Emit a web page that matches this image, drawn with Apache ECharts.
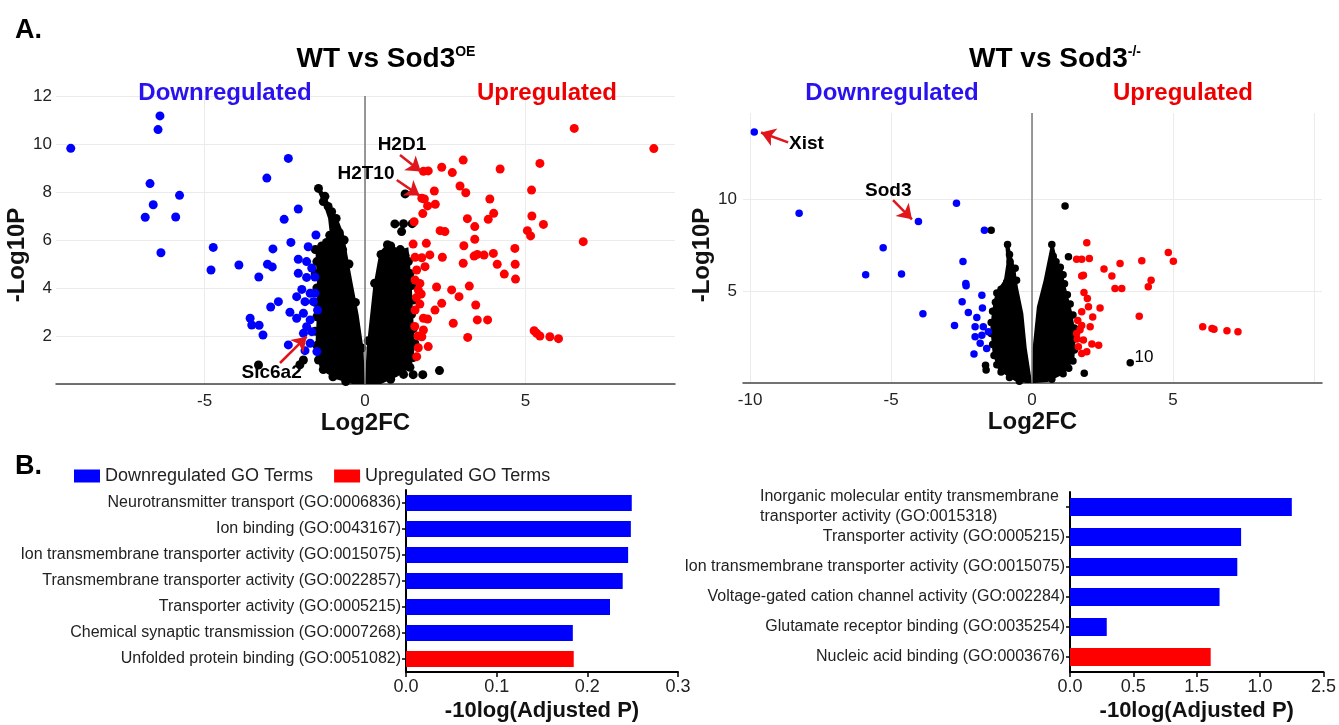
<!DOCTYPE html>
<html>
<head>
<meta charset="utf-8">
<title>Volcano plots and GO terms</title>
<script src="https://cdn.jsdelivr.net/npm/echarts@6/dist/echarts.min.js"></script>
<style>
	html, body {margin: 0; padding: 0; background: #fff;}
	#main {width: 1339px; height: 725px;}
</style>
</head>
<body>
<div id="main"></div>
<script>
// ---------- A. WT vs Sod3 OE (log2FC, -log10P) ----------
var oeDown = [[-9.17,9.82],[-6.39,11.17],[-6.45,10.6],[-6.70,8.35],[-6.60,7.47],[-6.85,6.95],[-5.78,7.86],[-5.90,6.96],[-6.36,5.47],
	[-4.73,5.69],[-4.80,4.75],[-3.93,4.96],[-3.31,4.46],[-3.04,4.99],[-2.89,4.88],[-2.87,5.63],[-3.06,8.58],[-2.39,9.40],[-2.08,7.29],
	[-2.52,6.86],[-2.31,5.90],[-1.53,6.21],[-2.70,3.43],[-2.94,3.21],[-3.58,2.74],[-3.53,2.46],[-3.30,2.45],[-3.18,2.04],[-2.34,2.99],
	[-2.08,5.20],[-2.08,4.61],[-1.82,5.10],[-1.77,5.72],[-1.66,4.83],[-1.82,4.44],[-1.56,4.46],[-1.97,3.94],[-2.13,3.64],[-1.71,3.78],
	[-1.87,3.43],[-1.61,3.43],[-2.13,2.74],[-1.92,2.95],[-1.71,2.67],[-1.82,2.39],[-1.66,2.18],[-1.92,2.11],[-1.71,1.70],[-2.39,1.63],
	[-1.87,1.39],[-1.50,1.35],[-1.56,3.78],[-1.48,3.08]];
var oeUp = [[6.52,10.65],[9.00,9.81],[3.06,9.33],[2.39,9.03],[2.72,8.81],[1.82,8.86],[1.97,8.88],[4.21,8.96],[5.45,9.19],[2.16,8.04],
	[2.96,8.25],[3.14,7.97],[5.19,8.08],[1.77,7.74],[1.85,7.71],[1.95,7.42],[2.19,7.49],[1.80,7.10],[1.53,6.76],[3.89,7.71],[4.01,7.11],
	[3.84,6.86],[3.19,6.89],[3.42,6.56],[5.20,7.00],[5.56,6.65],[5.06,6.39],[5.16,6.17],[6.80,5.93],[2.34,6.39],[2.49,6.35],[3.42,6.03],
	[3.08,5.76],[1.50,5.83],[1.91,5.86],[2.02,5.38],[2.41,5.28],[3.40,5.33],[3.50,5.40],[3.71,5.37],[4.00,5.44],[4.67,5.65],[3.06,5.03],
	[4.12,4.99],[4.68,4.99],[4.34,4.58],[4.69,4.37],[1.56,5.28],[1.77,5.26],[1.87,4.89],[1.61,4.75],[1.56,4.33],[1.71,4.19],[1.66,3.92],
	[2.23,4.04],[2.70,3.92],[2.93,3.64],[3.25,4.08],[3.45,3.29],[2.39,3.36],[2.18,3.08],[1.71,3.33],[1.56,3.08],[1.82,2.74],[1.95,2.71],
	[2.75,2.53],[3.50,2.67],[3.82,2.67],[1.82,2.25],[1.77,1.97],[3.20,1.94],[5.27,2.22],[5.35,2.11],[5.45,2.00],[5.76,1.97],[6.03,1.89],
	[1.66,1.51],[1.97,1.56],[1.61,1.14],[1.60,3.60],[1.75,3.75],[1.55,2.40],[1.65,2.00]];
var oeNs = [[-1.45,8.15],[-1.25,7.82],[-1.30,7.60],[-1.15,7.40],[-1.04,7.18],[-0.90,6.90],[-0.95,6.60],[-0.80,6.30],[-1.10,6.20],
	[-0.65,6.00],[-1.20,5.90],[-0.70,5.60],[-1.35,5.75],[-1.55,5.60],[-1.50,5.10],[-1.55,4.60],[-1.50,4.00],[-1.55,3.40],[-1.50,2.80],
	[-1.55,2.20],[-1.50,1.60],[-1.45,1.00],[-1.30,0.60],[-1.00,0.30],[-0.60,0.10],[-0.10,1.50],[-0.30,3.40],[-0.50,5.00],
	[-3.32,0.79],[-1.92,1.00],[-2.03,0.80],
	[0.70,5.80],[0.80,5.75],[0.95,5.50],[1.10,5.60],[1.25,5.35],[1.35,5.10],[1.40,4.60],[1.45,4.10],[1.50,3.50],[1.45,2.90],[1.50,2.30],
	[1.55,1.70],[1.50,1.10],[1.40,0.70],[1.20,0.40],[0.80,0.20],[0.10,1.80],[0.30,4.20],[0.50,5.40],
	[1.25,7.92],[0.93,6.67],[1.14,6.35],[1.47,6.68],[1.20,6.68],[2.32,0.56],[1.80,0.39],[1.50,0.39]];
// outline of the dense black core (too many genes to list one by one)
var oeCoreLeft = [[0,0],[-0.05,1.5],[-0.2,2.9],[-0.4,4.3],[-0.55,5.4],[-0.65,6.2],[-0.85,6.9],[-1.1,7.5],[-1.35,8.1],[-1.5,8.1],
	[-1.3,7.5],[-1.15,6.9],[-1.1,6.3],[-1.3,5.9],[-1.55,5.7],[-1.5,4.3],[-1.5,2.9],[-1.55,1.5],[-1.4,0.6],[-0.9,0.2],[-0.4,0]];
var oeCoreRight = [[0,0],[0.05,1.5],[0.25,4.0],[0.45,5.5],[0.7,5.85],[0.85,5.75],[1.1,5.6],[1.35,5.7],[1.45,4.3],[1.5,2.9],
	[1.55,1.5],[1.45,0.7],[1.0,0.3],[0.5,0]];
var oeGenes = [['H2D1',1.15,9.96],['H2T10',0.03,8.75],['Slc6a2',-2.91,0.46]];
var oeArrows = [[[1.09,9.54],[1.74,8.85]],[[0.99,8.5],[1.70,7.85]],[[-2.65,0.875],[-1.82,1.97]]];
var oeXTicks = [-5, 0, 5];

// ---------- A. WT vs Sod3-/- ----------
var koDown = [[-9.85,13.66],[-8.26,9.24],[-4.03,8.79],[-2.68,9.78],[-5.28,7.37],[-5.90,5.89],[-4.63,5.94],[-3.87,3.77],[-2.45,6.61],
	[-2.35,5.42],[-2.34,5.30],[-2.48,4.42],[-2.26,3.84],[-2.75,3.13],[-1.69,8.32],[-1.78,4.78],[-1.76,4.09],[-1.96,3.57],[-2.02,3.06],
	[-1.73,3.06],[-2.02,2.52],[-1.78,2.60],[-1.55,2.79],[-2.06,1.58],[-1.61,1.88],[-1.84,2.16]];
var koUp = [[1.94,7.63],[1.58,6.74],[1.76,6.74],[2.03,6.78],[1.82,5.87],[1.76,5.82],[1.84,4.93],[1.96,4.60],[2.00,4.15],[1.76,3.88],
	[2.15,3.60],[2.41,4.09],[2.06,3.06],[1.76,3.13],[1.58,2.70],[1.82,2.34],[1.64,1.97],[2.12,2.12],[2.36,2.06],[1.94,1.70],[1.76,1.60],
	[2.55,6.20],[2.83,5.82],[3.12,6.50],[2.94,5.14],[3.18,5.14],[3.89,6.65],[4.22,5.60],[4.12,5.24],[4.83,7.10],[5.01,6.63],[3.80,3.64],
	[6.05,3.06],[6.38,2.97],[6.45,2.92],[6.91,2.84],[7.30,2.79],[1.60,2.40],[1.70,2.90],[1.62,3.40]];
var koNs = [[-0.87,7.54],[-0.80,7.00],[-0.78,6.60],[-0.60,6.25],[-0.70,5.90],[-0.55,5.60],[-0.90,5.50],[-1.10,5.10],[-1.25,4.90],
	[-1.30,4.40],[-1.40,3.90],[-1.45,3.30],[-1.45,2.70],[-1.40,2.10],[-1.35,1.50],[-1.25,1.00],[-1.10,0.60],[-0.80,0.30],[-0.45,0.10],
	[-1.45,8.32],[-1.63,0.71],[-1.65,0.97],
	[0.70,7.54],[0.75,6.90],[0.85,6.60],[1.00,6.30],[1.10,5.90],[1.15,5.40],[1.25,4.80],[1.35,4.30],[1.45,3.70],[1.50,3.00],[1.50,2.40],
	[1.50,1.80],[1.45,1.20],[1.30,0.80],[1.10,0.50],[0.70,0.20],[1.17,9.64],[1.29,6.87],[3.48,1.10],[1.85,0.53]];
var koCoreLeft = [[0,0],[-0.19,1.9],[-0.31,3.78],[-0.5,5.2],[-0.6,6.2],[-0.8,7.4],[-0.95,7.5],[-0.9,6.6],[-1.0,5.6],[-1.3,4.9],
	[-1.42,3.9],[-1.48,3.0],[-1.4,1.6],[-1.2,0.7],[-0.6,0.1],[-0.2,0]];
var koCoreRight = [[0,0],[0.02,1.9],[0.17,4.15],[0.41,5.6],[0.65,7.4],[0.78,7.4],[0.9,6.6],[1.08,6.2],[1.15,5.5],[1.42,3.85],
	[1.55,2.6],[1.5,1.3],[1.15,0.5],[0.55,0.05],[0.1,0]];
var koGenes = [['Xist',-8.0,13.0],['Sod3',-5.1,10.45],['10',3.97,1.41]];
var koArrows = [[[-8.65,13.1],[-9.61,13.64]],[[-4.93,9.95],[-4.26,8.91]]];
var koXTicks = [-10, -5, 0, 5];
var koYTicks = [5, 10];

// ---------- B. GO terms ----------
var goTermsOE = ['Neurotransmitter transport (GO:0006836)','Ion binding (GO:0043167)','Ion transmembrane transporter activity (GO:0015075)',
	'Transmembrane transporter activity (GO:0022857)','Transporter activity (GO:0005215)','Chemical synaptic transmission (GO:0007268)',
	'Unfolded protein binding (GO:0051082)'];
var goDownOE = [0.249, 0.248, 0.245, 0.239, 0.225, 0.184, '-'];
var goUpOE = ['-', '-', '-', '-', '-', '-', 0.185];
var goTermsKO = ['Inorganic molecular entity transmembrane\ntransporter activity (GO:0015318)','Transporter activity (GO:0005215)',
	'Ion transmembrane transporter activity (GO:0015075)','Voltage-gated cation channel activity (GO:002284)',
	'Glutamate receptor binding (GO:0035254)','Nucleic acid binding (GO:0003676)'];
var goDownKO = [1.75, 1.35, 1.32, 1.18, 0.29, '-'];
var goUpKO = ['-', '-', '-', '-', '-', 1.11];
var goTickLabelsKO = ['0.0', '0.5', '1.5', '1.0', '2.5'];

var FONT = 'Liberation Sans, Arial, sans-serif';
var BLUE = '#0000ff', RED = '#ff0000';

function corePolygon(outline){
	return function(params, api){
		var pts = outline.map(function(p){ return api.coord(p); });
		return {type: 'polygon', shape: {points: pts}, style: {fill: '#000'}};
	};
}

function coreSeries(idx, outline){
	return {type: 'custom', xAxisIndex: idx, yAxisIndex: idx, silent: true, z: 1,
		renderItem: corePolygon(outline), data: [[0, 0]]};
}

function dots(idx, data, color, size, z){
	return {type: 'scatter', xAxisIndex: idx, yAxisIndex: idx, data: data, symbolSize: size,
		itemStyle: {color: color, opacity: 1}, silent: true, z: z};
}

function geneLabels(idx, genes, arrows){
	return {
		type: 'scatter', xAxisIndex: idx, yAxisIndex: idx, symbolSize: 0, silent: true, z: 10,
		itemStyle: {opacity: 1, color: '#000'},
		data: genes.map(function(g){
			return {name: g[0], value: [g[1], g[2]], label: g[0] === '10' ? {fontWeight: 'normal', fontSize: 17} : {}};
		}),
		label: {show: true, position: 'inside', formatter: '{b}', color: '#000', opacity: 1, fontSize: 19,
			fontWeight: 'bold', fontFamily: FONT, textBorderWidth: 0},
		markLine: {
			silent: true, symbol: ['none', 'arrow'], symbolSize: 14, animation: false,
			lineStyle: {color: '#e0161c', width: 2.5, type: 'solid', opacity: 1},
			itemStyle: {color: '#e0161c'}, label: {show: false},
			data: arrows.map(function(a){ return [{coord: a[0]}, {coord: a[1]}]; })
		}
	};
}

function zeroLine(idx, top){
	return {
		type: 'scatter', xAxisIndex: idx, yAxisIndex: idx, data: [], z: 0,
		markLine: {silent: true, symbol: 'none', animation: false, label: {show: false},
			lineStyle: {color: '#777', width: 1.5, type: 'solid'},
			data: [[{coord: [0, 0]}, {coord: [0, top]}]]}
	};
}

function volcanoX(idx, min, max, labels, ticks){
	return {
		type: 'value', gridIndex: idx, min: min, max: max,
		axisLine: {show: true, onZero: false, lineStyle: {color: '#444', width: 1.5}},
		axisTick: {show: false, customValues: ticks},
		axisLabel: {customValues: labels, fontSize: 17, color: '#222', margin: 9, fontFamily: FONT},
		splitLine: {show: true, lineStyle: {color: '#ebebeb', width: 1}},
		name: 'Log2FC', nameLocation: 'middle', nameGap: 27,
		nameTextStyle: {fontSize: 24, fontWeight: 'bold', color: '#111', fontFamily: FONT}
	};
}

function barY(idx, terms){
	return {
		type: 'category', gridIndex: idx, data: terms, inverse: true,
		axisLine: {show: true, lineStyle: {color: '#000', width: 2}},
		axisTick: {show: true, length: 4, alignWithLabel: true, lineStyle: {color: '#000', width: 1.5}},
		axisLabel: {interval: 0, fontSize: 16, color: '#222', margin: 5, fontFamily: FONT,
			formatter: function(v){
				if (v.indexOf('\n') < 0) return v;
				return v.split('\n').map(function(s){ return '{w|' + s + '}'; }).join('\n');
			},
			rich: {w: {width: 305, align: 'left', fontSize: 16, lineHeight: 20, color: '#222', fontFamily: FONT}}
		}
	};
}

function barX(idx, max, interval, formatter){
	return {
		type: 'value', gridIndex: idx, min: 0, max: max, interval: interval,
		axisLine: {show: true, lineStyle: {color: '#000', width: 2}},
		axisTick: {show: true, length: 5, lineStyle: {color: '#000', width: 1.5}},
		axisLabel: {fontSize: 18, color: '#222', margin: 6, fontFamily: FONT, formatter: formatter},
		splitLine: {show: false},
		name: '-10log(Adjusted P)', nameLocation: 'middle', nameGap: 28,
		nameTextStyle: {fontSize: 22, fontWeight: 'bold', color: '#111', fontFamily: FONT}
	};
}

function bars(idx, name, data, color, width){
	return {type: 'bar', name: name, xAxisIndex: idx, yAxisIndex: idx, stack: 'go' + idx, data: data,
		barWidth: width, itemStyle: {color: color}, silent: true};
}

function headerText(text, x, top, size, color){
	return {text: text, left: x, top: top, textAlign: 'center',
		textStyle: {fontSize: size, fontWeight: 'bold', color: color, fontFamily: FONT}};
}

function drawChart(){
	var myChart = echarts.init(document.getElementById('main'), null, {renderer: 'canvas'});
	var option = {
		animation: false,
		textStyle: {fontFamily: FONT},
		title: [
			{text: 'A.', left: 10, top: 12, textStyle: {fontSize: 27, fontWeight: 'bold', color: '#000', fontFamily: FONT}},
			{text: 'B.', left: 10, top: 448, textStyle: {fontSize: 27, fontWeight: 'bold', color: '#000', fontFamily: FONT}},
			{text: '{a|WT vs Sod3}{s|OE}', left: 381, top: 40, textAlign: 'center',
				textStyle: {rich: {a: {fontSize: 28, fontWeight: 'bold', color: '#000', fontFamily: FONT},
					s: {fontSize: 14, fontWeight: 'bold', color: '#000', verticalAlign: 'top', fontFamily: FONT}}}},
			{text: '{a|WT vs Sod3}{s|-/-}', left: 1050, top: 40, textAlign: 'center',
				textStyle: {rich: {a: {fontSize: 28, fontWeight: 'bold', color: '#000', fontFamily: FONT},
					s: {fontSize: 14, fontWeight: 'bold', color: '#000', verticalAlign: 'top', fontFamily: FONT}}}},
			headerText('Downregulated', 220, 76, 24, '#2a12ee'),
			headerText('Upregulated', 542, 76, 24, '#ee0000'),
			headerText('Downregulated', 887, 76, 24, '#2a12ee'),
			headerText('Upregulated', 1178, 76, 24, '#ee0000')
		],
		legend: {
			data: ['Downregulated GO Terms', 'Upregulated GO Terms'], left: 69, top: 462,
			icon: 'rect', itemWidth: 26, itemHeight: 13, itemGap: 21, selectedMode: false,
			textStyle: {fontSize: 18, color: '#222', fontFamily: FONT}
		},
		grid: [
			{left: 56, right: 664, top: 96, bottom: 341},
			{left: 743, right: 17, top: 113, bottom: 342},
			{left: 406, right: 661, top: 490, bottom: 53},
			{left: 1070, right: 8, top: 492, bottom: 53}
		],
		xAxis: [
			volcanoX(0, -9.63, 9.66, oeXTicks, [-5, 0, 5]),
			volcanoX(1, -10.25, 10.28, koXTicks, [-10, -5, 0, 5, 10]),
			barX(2, 0.3, 0.1, function(v){ return v.toFixed(1); }),
			barX(3, 2, 0.5, function(v){ return goTickLabelsKO[Math.round(v / 0.5)]; })
		],
		yAxis: [
			{
				type: 'value', gridIndex: 0, min: 0, max: 12, interval: 2,
				axisLine: {show: false}, axisTick: {show: false},
				axisLabel: {showMinLabel: false, fontSize: 17, color: '#222', margin: 4, fontFamily: FONT},
				splitLine: {show: true, lineStyle: {color: '#ebebeb', width: 1}},
				name: '-Log10P', nameLocation: 'middle', nameRotate: 90, nameGap: 24,
				nameTextStyle: {fontSize: 24, fontWeight: 'bold', color: '#111', fontFamily: FONT, padding: [0, 30, 0, 0]}
			},
			{
				type: 'value', gridIndex: 1, min: 0, max: 14.7,
				axisLine: {show: false}, axisTick: {show: false, customValues: koYTicks},
				axisLabel: {customValues: koYTicks, fontSize: 17, color: '#222', margin: 6, fontFamily: FONT},
				splitLine: {show: true, lineStyle: {color: '#ebebeb', width: 1}},
				name: '-Log10P', nameLocation: 'middle', nameRotate: 90, nameGap: 29,
				nameTextStyle: {fontSize: 24, fontWeight: 'bold', color: '#111', fontFamily: FONT, padding: [0, 14, 0, 0]}
			},
			barY(2, goTermsOE),
			barY(3, goTermsKO)
		],
		series: [
			zeroLine(0, 12),
			coreSeries(0, oeCoreLeft),
			coreSeries(0, oeCoreRight),
			dots(0, oeNs, '#000', 9, 2),
			dots(0, oeDown, BLUE, 9, 3),
			dots(0, oeUp, RED, 9, 3),
			geneLabels(0, oeGenes, oeArrows),

			zeroLine(1, 14.7),
			coreSeries(1, koCoreLeft),
			coreSeries(1, koCoreRight),
			dots(1, koNs, '#000', 7.5, 2),
			dots(1, koDown, BLUE, 7.5, 3),
			dots(1, koUp, RED, 7.5, 3),
			geneLabels(1, koGenes, koArrows),

			bars(2, 'Downregulated GO Terms', goDownOE, BLUE, 16),
			bars(2, 'Upregulated GO Terms', goUpOE, RED, 16),
			bars(3, 'Downregulated GO Terms', goDownKO, BLUE, 18),
			bars(3, 'Upregulated GO Terms', goUpKO, RED, 18)
		]
	};

	myChart.setOption(option);
	window.addEventListener("resize", function(){
		myChart.resize();
	});
}

drawChart();
</script>
</body>
</html>
